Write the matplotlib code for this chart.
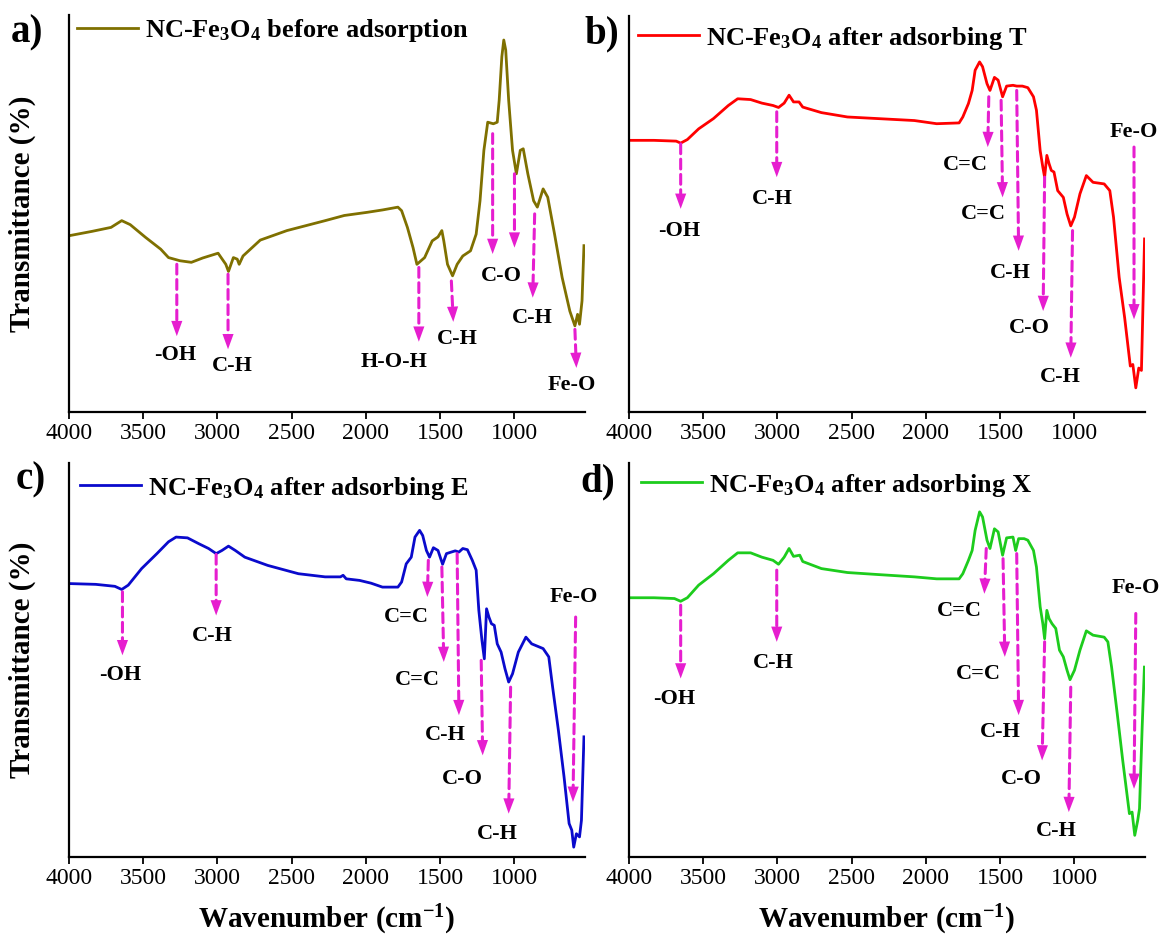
import matplotlib.pyplot as plt

plt.rcParams['font.family'] = ['Liberation Serif', 'DejaVu Serif']
plt.rcParams['mathtext.fontset'] = 'custom'
plt.rcParams['mathtext.rm'] = 'Liberation Serif:bold'
plt.rcParams['mathtext.it'] = 'Liberation Serif:bold'
plt.rcParams['mathtext.bf'] = 'Liberation Serif:bold'

# a) NC-Fe3O4 before adsorption
wn_a = [4000, 3845, 3717, 3645, 3588, 3485, 3382, 3330, 3253, 3176, 3099, 2996, 2944, 2926,
        2893, 2867, 2854, 2828, 2712, 2532, 2275, 2146, 1991, 1888, 1785, 1760, 1721, 1683,
        1657, 1605, 1554, 1515, 1489, 1476, 1451, 1417, 1386, 1348, 1296, 1258, 1232, 1206,
        1180, 1142, 1116, 1103, 1085, 1072, 1059, 1039, 1013, 987, 961, 941, 910, 871, 846,
        807, 776, 730, 679, 627, 593, 575, 562, 545, 532]
tr_a = [44.4, 45.5, 46.5, 48.2, 47.2, 44.0, 41.0, 38.9, 38.1, 37.7, 38.8, 40.0, 37.2, 35.4,
        38.9, 38.5, 37.2, 39.3, 43.3, 45.7, 48.2, 49.5, 50.3, 50.9, 51.6, 50.7, 46.5, 41.4,
        37.2, 38.9, 43.1, 44.1, 45.7, 43.1, 37.2, 34.3, 37.2, 39.3, 40.6, 44.8, 53.2, 65.9,
        73.0, 72.6, 73.0, 78.5, 89.5, 93.7, 91.2, 78.5, 65.9, 60.0, 65.9, 66.3, 60.0, 53.2, 51.6,
        56.2, 54.1, 44.8, 33.9, 25.4, 21.7, 24.6, 22.1, 28.0, 41.9]

# b) after adsorbing T
wn_b = [4000, 3832, 3682, 3652, 3607, 3531, 3431, 3331, 3268, 3181, 3105, 3030, 2993, 2955,
        2922, 2892, 2855, 2830, 2704, 2529, 2328, 2078, 1928, 1777, 1752, 1714, 1689, 1669,
        1639, 1619, 1589, 1569, 1539, 1514, 1484, 1457, 1414, 1389, 1351, 1314, 1276, 1256,
        1231, 1213, 1201, 1186, 1171, 1156, 1138, 1113, 1075, 1050, 1025, 1000, 963, 920, 875,
        800, 762, 737, 699, 662, 624, 607, 587, 567, 549, 538, 528]
tr_b = [68.6, 68.6, 68.4, 67.9, 68.8, 71.5, 74.1, 77.4, 79.1, 78.9, 78.0, 77.4, 76.9, 78.0,
        80.0, 78.3, 78.3, 77.0, 75.6, 74.5, 74.1, 73.6, 72.8, 73.0, 74.5, 77.9, 81.2, 86.3,
        88.4, 87.2, 82.9, 81.2, 84.5, 83.8, 79.6, 82.3, 82.5, 82.3, 82.3, 81.9, 79.6, 76.2,
        66.0, 61.8, 59.3, 64.8, 62.7, 61.0, 60.6, 55.9, 54.2, 50.0, 47.0, 49.2, 55.1, 59.7, 58.0,
        57.6, 55.9, 49.2, 34.0, 23.8, 11.6, 12.0, 6.1, 11.1, 10.5, 28.0, 43.7]

# c) after adsorbing E
wn_c = [4000, 3820, 3691, 3645, 3601, 3511, 3408, 3330, 3279, 3202, 3125, 3060, 3009, 2970,
        2926, 2880, 2816, 2661, 2455, 2275, 2172, 2154, 2133, 2043, 1966, 1889, 1785, 1760,
        1729, 1695, 1670, 1639, 1618, 1593, 1572, 1546, 1515, 1484, 1458, 1425, 1399, 1374,
        1348, 1317, 1284, 1258, 1240, 1219, 1203, 1188, 1172, 1155, 1136, 1116, 1090, 1064,
        1039, 1013, 974, 923, 884, 807, 769, 743, 704, 666, 632, 614, 601, 583, 562, 549, 532]
tr_c = [69.4, 69.2, 68.7, 67.9, 69.0, 73.2, 77.0, 80.0, 81.2, 81.0, 79.5, 78.3, 77.0, 77.8,
        78.9, 77.8, 76.1, 74.0, 71.9, 71.1, 71.1, 71.5, 70.6, 70.2, 69.5, 68.5, 68.5, 69.8,
        74.4, 76.1, 81.2, 82.9, 81.6, 77.8, 76.1, 78.5, 77.8, 74.3, 77.0, 77.4, 77.7, 77.4,
        78.3, 78.0, 75.3, 72.8, 62.6, 55.0, 50.3, 63.0, 60.9, 59.2, 58.8, 54.1, 52.0, 47.8,
        44.4, 46.5, 52.0, 55.8, 54.1, 52.9, 50.8, 43.1, 32.1, 20.3, 8.5, 6.8, 2.5, 5.9, 5.1, 9.3, 30.5]

# d) after adsorbing X
wn_d = [4000, 3832, 3694, 3652, 3607, 3531, 3431, 3331, 3268, 3181, 3105, 3030, 2993, 2955,
        2922, 2892, 2850, 2830, 2704, 2529, 2328, 2078, 1928, 1777, 1752, 1714, 1689, 1669,
        1639, 1619, 1589, 1569, 1539, 1514, 1484, 1457, 1414, 1396, 1376, 1339, 1314, 1276,
        1256, 1231, 1213, 1201, 1186, 1171, 1151, 1126, 1101, 1075, 1050, 1030, 1000, 963,
        920, 875, 800, 775, 750, 712, 675, 630, 612, 594, 574, 562, 544, 529]
tr_d = [65.8, 65.8, 65.6, 64.9, 65.8, 69.0, 71.9, 75.3, 77.2, 77.2, 76.1, 75.3, 74.3, 76.1,
        78.3, 76.3, 76.6, 75.0, 73.2, 72.2, 71.7, 71.1, 70.6, 70.6, 71.9, 75.3, 77.8, 82.9,
        87.6, 86.3, 80.4, 78.3, 83.3, 82.5, 76.6, 81.0, 81.2, 77.8, 80.8, 80.8, 80.4, 77.8,
        73.6, 63.5, 59.2, 55.4, 62.6, 60.5, 59.2, 58.0, 52.5, 50.8, 47.4, 45.0, 47.4, 52.5,
        57.4, 56.3, 55.8, 54.6, 48.2, 36.4, 24.5, 11.0, 11.4, 5.5, 9.3, 12.3, 33.0, 48.2]

# dashed arrows: (wn start, tr start, wn tip, tr tip)
arrows_a = [(3274, 37.2, 3274, 19.1), (2929, 34.7, 2929, 15.8), (1644, 36.4, 1644, 17.7),
            (1425, 33.0, 1412, 22.7), (1147, 70.1, 1147, 39.8), (1000, 60.0, 1000, 41.4),
            (864, 49.9, 877, 28.8), (593, 20.8, 583, 11.1)]
labels_a = [('-OH', 3287, 14.3), ('C-H', 2900, 11.5), ('H-O-H', 1811, 12.6), ('C-H', 1386, 18.3),
            ('C-O', 1090, 34.3), ('C-H', 877, 23.8), ('Fe-O', 614, 6.9)]

arrows_b = [(3652, 67.7, 3652, 51.3), (3005, 75.8, 3005, 59.3), (1577, 79.6, 1584, 66.9),
            (1494, 78.7, 1484, 54.2), (1389, 81.2, 1376, 40.7), (1201, 59.3, 1211, 25.5),
            (1013, 45.8, 1025, 13.7), (599, 66.9, 599, 23.4)]
labels_b = [('-OH', 3662, 45.8), ('C-H', 3035, 53.8), ('C=C', 1735, 62.5), ('C=C', 1614, 50.0),
            ('C-H', 1431, 35.2), ('C-O', 1301, 21.3), ('C-H', 1093, 8.8), ('Fe-O', 599, 70.7)]

arrows_c = [(3640, 67.3, 3640, 51.2), (3009, 76.8, 3009, 61.3), (1580, 75.3, 1587, 66.0),
            (1489, 73.6, 1476, 49.5), (1386, 77.0, 1374, 36.0), (1224, 49.9, 1214, 25.8),
            (1026, 43.1, 1039, 11.0), (588, 60.9, 606, 14.0)]
labels_c = [('-OH', 3652, 46.1), ('C-H', 3034, 56.0), ('C=C', 1726, 60.9), ('C=C', 1657, 44.8),
            ('C-H', 1464, 30.9), ('C-O', 1348, 19.9), ('C-H', 1116, 5.9), ('Fe-O', 601, 66.0)]

arrows_d = [(3652, 63.9, 3652, 45.3), (3005, 72.8, 3005, 54.6), (1594, 78.3, 1607, 66.8),
            (1481, 75.7, 1469, 50.8), (1389, 77.0, 1376, 36.0), (1201, 54.6, 1218, 24.5),
            (1025, 43.1, 1038, 11.4), (587, 61.8, 599, 17.3)]
labels_d = [('-OH', 3694, 40.2), ('C-H', 3025, 49.2), ('C=C', 1777, 62.4), ('C=C', 1644, 46.5),
            ('C-H', 1502, 31.7), ('C-O', 1356, 19.9), ('C-H', 1119, 6.6), ('Fe-O', 587, 68.3)]

legends = ['NC-Fe$_3$O$_4$ before adsorption', 'NC-Fe$_3$O$_4$ after adsorbing T',
           'NC-Fe$_3$O$_4$ after adsorbing E', 'NC-Fe$_3$O$_4$ after adsorbing X']
colors = ['#7F7000', '#FF0000', '#0A0ACC', '#1DCC1D']
mag = '#E61ECF'

W, H = 1163, 938
fig = plt.figure(figsize=(W / 100, H / 100), dpi=100)

# pixel boxes (left, top, right, bottom)
boxes = [(69, 15, 585, 412), (629, 16, 1145, 412), (69, 463, 585, 857), (629, 463, 1145, 857)]
leg_pos = [(77, 31), (638, 38), (80, 488), (641, 485)]
tags = [('a)', 27, 33), ('b)', 602, 34), ('c)', 31, 480), ('d)', 598, 482)]
panels = [(wn_a, tr_a, arrows_a, labels_a), (wn_b, tr_b, arrows_b, labels_b),
          (wn_c, tr_c, arrows_c, labels_c), (wn_d, tr_d, arrows_d, labels_d)]

for i, (wn, tr, arrows, labels) in enumerate(panels):
    l, t, r, b = boxes[i]
    ax = fig.add_axes([l / W, 1 - b / H, (r - l) / W, (b - t) / H])
    ax.plot(wn, tr, color=colors[i], lw=2.0, label=legends[i])
    ax.set_xlim(4000, 525)
    ax.set_ylim(0, 100)
    ax.set_xticks([4000, 3500, 3000, 2500, 2000, 1500, 1000])
    ax.set_yticks([])
    ax.tick_params(axis='x', direction='out', length=5, width=1.3, labelsize=17, pad=3)
    for s in ['top', 'right']:
        ax.spines[s].set_visible(False)
    for s in ['left', 'bottom']:
        ax.spines[s].set_linewidth(1.6)

    for x0, y0, x1, y1 in arrows:
        # dashed shaft, then a solid head on top
        ax.annotate('', xy=(x1, y1), xytext=(x0, y0),
                    arrowprops=dict(arrowstyle='-', color=mag, lw=2.2, ls=(0, (3.2, 1.8)),
                                    shrinkA=0, shrinkB=9))
        ax.annotate('', xy=(x1, y1), xytext=(x0, y0),
                    arrowprops=dict(arrowstyle='-|>,head_length=0.55,head_width=0.2',
                                    color=mag, lw=0, shrinkA=0, shrinkB=0, mutation_scale=20))
    for s, x, y in labels:
        ax.text(x, y, s, ha='center', va='center', fontsize=16, fontweight='bold')

    lx, ly = leg_pos[i]
    ax.legend(loc='center left', bbox_to_anchor=(lx / W, 1 - ly / H), bbox_transform=fig.transFigure,
              frameon=False, prop={'weight': 'bold', 'size': 19}, handlelength=2.3,
              handletextpad=0.27, borderpad=0, borderaxespad=0)

    if i % 2 == 0:
        ax.set_ylabel('Transmittance (%)', fontsize=21, fontweight='bold', labelpad=24)
    if i >= 2:
        ax.set_xlabel('Wavenumber (cm$^{-1}$)', fontsize=21, fontweight='bold', labelpad=10)

    s, x, y = tags[i]
    fig.text(x / W, 1 - y / H, s, ha='center', va='center', fontsize=28, fontweight='bold')

fig.savefig('out.png', dpi=100)
